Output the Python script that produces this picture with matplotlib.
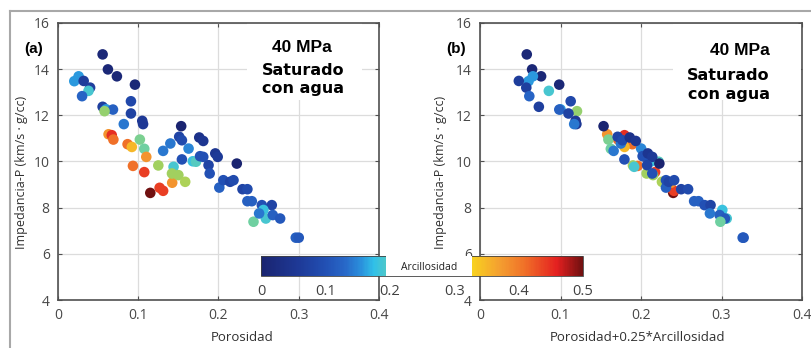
import numpy as np
import matplotlib
matplotlib.use("Agg")
import matplotlib.pyplot as plt
from matplotlib.colors import LinearSegmentedColormap
from matplotlib.patches import Rectangle
from matplotlib.lines import Line2D

# ---------------- data ----------------
porosidad = [0.0556, 0.0622, 0.0734, 0.0959, 0.0203, 0.0257, 0.032, 0.040, 0.038, 0.030,
             0.0556, 0.060, 0.0685, 0.058, 0.0909, 0.0909, 0.105, 0.106, 0.082, 0.063,
             0.067, 0.069, 0.0867, 0.092, 0.102, 0.1075, 0.0934, 0.110, 0.1075, 0.115,
             0.1266, 0.131, 0.125, 0.1423, 0.144, 0.142, 0.150, 0.1585, 0.131, 0.140,
             0.1535, 0.151, 0.1544, 0.1627, 0.1544, 0.168, 0.172, 0.176, 0.181, 0.177,
             0.181, 0.196, 0.199, 0.1876, 0.189, 0.2228, 0.201, 0.206, 0.2145, 0.2187,
             0.2299, 0.236, 0.236, 0.2415, 0.254, 0.2664, 0.256, 0.259, 0.2676, 0.2768,
             0.2436, 0.2963, 0.300, 0.2506]
impedancia = [14.64, 13.99, 13.69, 13.33, 13.48, 13.69, 13.49, 13.20, 13.06, 12.83,
              12.37, 12.26, 12.25, 12.18, 12.61, 12.08, 11.76, 11.62, 11.62, 11.18,
              11.14, 10.95, 10.75, 10.63, 10.95, 10.55, 9.81, 10.20, 9.54, 8.64,
              8.86, 8.73, 9.83, 9.08, 9.77, 9.48, 9.41, 9.12, 10.46, 10.78,
              11.53, 11.07, 10.92, 10.56, 10.09, 10.01, 9.99, 11.04, 10.89, 10.23,
              10.20, 10.35, 10.20, 9.84, 9.48, 9.91, 8.87, 9.19, 9.12, 9.19,
              8.80, 8.80, 8.28, 8.28, 8.11, 8.11, 7.90, 7.53, 7.68, 7.53,
              7.39, 6.70, 6.70, 7.75]
arcillosidad = [0.01, 0.01, 0.01, 0.01, 0.16, 0.16, 0.065, 0.07, 0.19, 0.125,
                0.07, 0.16, 0.12, 0.25, 0.087, 0.076, 0.055, 0.055, 0.14, 0.38,
                0.45, 0.41, 0.41, 0.35, 0.23, 0.22, 0.41, 0.38, 0.44, 0.50,
                0.44, 0.44, 0.26, 0.38, 0.19, 0.26, 0.26, 0.27, 0.14, 0.14,
                0.0, 0.08, 0.09, 0.15, 0.10, 0.18, 0.20, 0.04, 0.05, 0.10,
                0.10, 0.05, 0.06, 0.08, 0.10, 0.0, 0.12, 0.10, 0.08, 0.09,
                0.08, 0.09, 0.12, 0.12, 0.10, 0.08, 0.18, 0.19, 0.12, 0.11,
                0.22, 0.12, 0.11, 0.14]

x_ticks = [0, 0.1, 0.2, 0.3, 0.4]
y_ticks = [4, 6, 8, 10, 12, 14, 16]
cb_ticks = [0, 0.1, 0.2, 0.3, 0.4, 0.5]
labels_panel = ["(a)", "(b)"]
xlabels = ["Porosidad", "Porosidad+0.25*Arcillosidad"]
ylabel = "Impedancia-P (km/s \u00b7 g/cc)"

por = np.array(porosidad)
imp = np.array(impedancia)
arc = np.array(arcillosidad)
x_right = por + 0.25 * arc

# ---------------- style ----------------
W, H = 812, 348
fig = plt.figure(figsize=(W / 100, H / 100), dpi=100)
fig.patch.set_facecolor("white")

cmap = LinearSegmentedColormap.from_list("arc", [
    (0.00, "#1a2470"), (0.12, "#1e3a98"), (0.20, "#2250b4"), (0.26, "#2868c8"),
    (0.31, "#2a90dc"), (0.35, "#30c0e8"), (0.39, "#50c8c8"), (0.44, "#70d0a0"),
    (0.52, "#a0d060"), (0.60, "#d0d840"), (0.66, "#f8d020"), (0.74, "#f4a030"),
    (0.82, "#f07028"), (0.92, "#e42020"), (1.00, "#701010")])

tick_font = "Open Sans"
ann_font = "Liberation Sans"


def px_ax(l, r, t, b):
    return [l / W, 1 - b / H, (r - l) / W, (b - t) / H]


axes = [fig.add_axes(px_ax(58, 379, 23, 300)), fig.add_axes(px_ax(480, 802, 23, 300))]
xs = [por, x_right]

for i, ax in enumerate(axes):
    ax.set_xlim(0, 0.4)
    ax.set_ylim(4, 16)
    ax.set_xticks(x_ticks)
    ax.set_yticks(y_ticks)
    ax.set_xticklabels(["0", "0.1", "0.2", "0.3", "0.4"])
    ax.grid(True, color="#dcdcdc", lw=0.9, zorder=0)
    ax.set_axisbelow(True)
    for s in ax.spines.values():
        s.set_color("#505050")
        s.set_linewidth(1.2)
    ax.tick_params(direction="in", length=3, width=0.8, color="#505050",
                   top=True, right=True, labelsize=10, labelcolor="#484848", pad=6)
    for lab in ax.get_xticklabels() + ax.get_yticklabels():
        lab.set_fontfamily(tick_font)
    ax.set_xlabel(xlabels[i], fontsize=9.5, family=tick_font, color="#303030")
    ax.set_ylabel(ylabel, fontsize=9, family=tick_font, color="#303030")
    sc = ax.scatter(xs[i], imp, c=arc, cmap=cmap, vmin=0, vmax=0.5, s=58,
                    edgecolors="none", zorder=3)
    ax.text(-0.075, 0.905, labels_panel[i], transform=ax.transAxes, fontsize=11,
            fontweight="bold", family=ann_font, ha="center", va="center")

axes[0].xaxis.set_label_coords(0.575, -0.112)
axes[1].xaxis.set_label_coords(0.49, -0.112)
axes[0].yaxis.set_label_coords(-0.093, 0.46)
axes[1].yaxis.set_label_coords(-0.103, 0.46)

# white boxes behind the annotations
axes[0].add_patch(Rectangle((0.589, 0.722), 0.358, 0.278, transform=axes[0].transAxes,
                            facecolor="white", edgecolor="none", zorder=1))
axes[1].add_patch(Rectangle((0.60, 0.722), 0.398, 0.276, transform=axes[1].transAxes,
                            facecolor="white", edgecolor="none", zorder=1))

a0 = axes[0]
a0.text(0.76, 0.913, "40 MPa", transform=a0.transAxes, fontsize=12.5, fontweight="bold",
        family=ann_font, ha="center", va="center", zorder=4)
a0.text(0.763, 0.830, "Saturado", transform=a0.transAxes, fontsize=11.5, fontweight="bold",
        family="DejaVu Sans", ha="center", va="center", zorder=4)
a0.text(0.763, 0.762, "con agua", transform=a0.transAxes, fontsize=11.5, fontweight="bold",
        family="DejaVu Sans", ha="center", va="center", zorder=4)
a1 = axes[1]
a1.text(0.90, 0.90, "40 MPa", transform=a1.transAxes, fontsize=12.5, fontweight="bold",
        family=ann_font, ha="right", va="center", zorder=4)
a1.text(0.90, 0.809, "Saturado", transform=a1.transAxes, fontsize=11.5, fontweight="bold",
        family="DejaVu Sans", ha="right", va="center", zorder=4)
a1.text(0.90, 0.741, "con agua", transform=a1.transAxes, fontsize=11.5, fontweight="bold",
        family="DejaVu Sans", ha="right", va="center", zorder=4)

# colorbar
cax = fig.add_axes(px_ax(261, 583, 256, 276))
cax.set_zorder(10)
cb = fig.colorbar(sc, cax=cax, orientation="horizontal", ticks=cb_ticks)
cb.outline.set_linewidth(0.6)
cb.outline.set_edgecolor("#404040")
cax.tick_params(length=0, labelsize=10.5, labelcolor="#404040", pad=6)
cax.set_xticklabels(["0", "0.1", "0.2", "0.3", "0.4", "0.5"])
for lab in cax.get_xticklabels():
    lab.set_fontfamily(tick_font)
cax.add_patch(Rectangle((0.388, 0.0), 0.268, 1.0, transform=cax.transAxes,
                        facecolor="white", edgecolor="none", zorder=5))
cax.text(0.522, 0.45, "Arcillosidad", transform=cax.transAxes, fontsize=7.5,
         family=tick_font, color="#202020", ha="center", va="center", zorder=6)

# outer grey frame (top and left edges)
fig.add_artist(Line2D([10 / W, 1], [1 - 11 / H, 1 - 11 / H], transform=fig.transFigure,
                      color="#a8a8a8", lw=1.5))
fig.add_artist(Line2D([10 / W, 10 / W], [0, 1 - 11 / H], transform=fig.transFigure,
                      color="#a8a8a8", lw=1.5))

fig.savefig("out.png", dpi=100)
